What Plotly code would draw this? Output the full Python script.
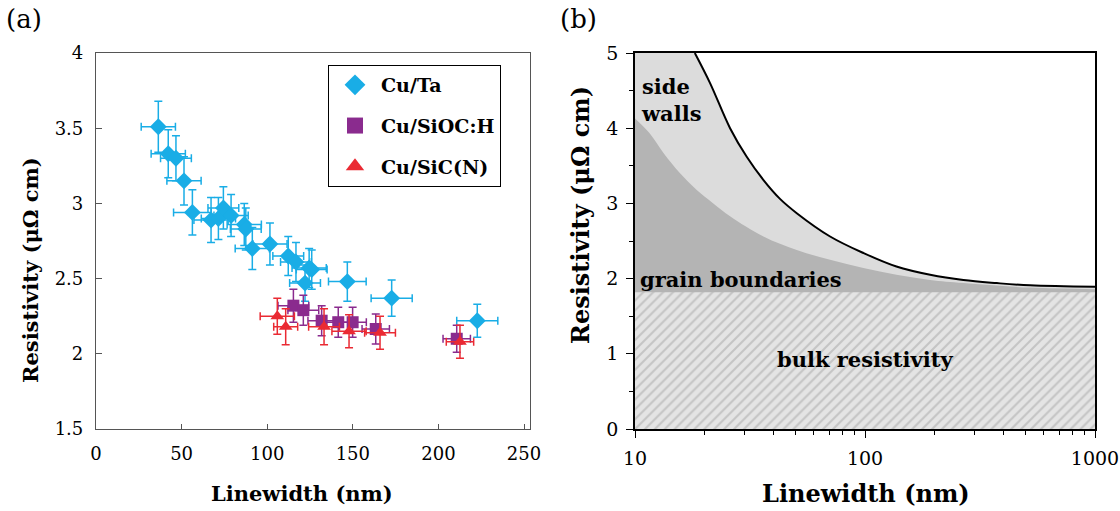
import plotly.graph_objects as go
import math

# ---------------- Panel (a) data ----------------
ta_w = [36.4, 42.2, 46.7, 51.4, 56.3, 67.2, 71.5, 74.4, 78.9, 86.6, 87.5, 91.3, 101.6,
        112.3, 116.8, 122.1, 124.5, 126.0, 146.8, 172.7, 222.7]
ta_r = [3.51, 3.33, 3.30, 3.15, 2.94, 2.89, 2.90, 2.97, 2.92, 2.86, 2.83, 2.70, 2.73,
        2.65, 2.61, 2.47, 2.57, 2.56, 2.48, 2.37, 2.22]
ta_dw = [10, 10, 9, 10, 11, 10, 10, 9, 10, 10, 9, 10, 10, 9, 9, 9, 10, 9, 11, 12, 12]
ta_dr = [0.17, 0.16, 0.15, 0.16, 0.15, 0.15, 0.14, 0.14, 0.14, 0.14, 0.14, 0.14, 0.14,
         0.13, 0.13, 0.12, 0.13, 0.13, 0.13, 0.12, 0.11]

sioc_w = [115.3, 121.1, 131.8, 141.5, 149.9, 163.4, 210.7]
sioc_r = [2.32, 2.29, 2.22, 2.21, 2.21, 2.165, 2.10]
sioc_dw = [9, 9, 8, 8, 8, 8, 8]
sioc_dr = [0.11, 0.10, 0.10, 0.10, 0.10, 0.10, 0.09]

sic_w = [105.9, 110.8, 133.2, 147.8, 165.9, 212.6]
sic_r = [2.25, 2.18, 2.18, 2.15, 2.14, 2.08]
sic_dw = [10, 7, 9, 10, 9, 8]
sic_dr = [0.12, 0.12, 0.12, 0.11, 0.11, 0.11]

left_yticks = [1.5, 2, 2.5, 3, 3.5, 4]
left_xticks = [0, 50, 100, 150, 200, 250]

# ---------------- Panel (b) data ----------------
total_w = [18.2, 21.2, 25.9, 30.6, 36.2, 42.7, 50.5, 70.5, 98.4, 137, 192, 268, 374, 522, 1000]
total_r = [5.0, 4.60, 4.00, 3.62, 3.31, 3.06, 2.87, 2.56, 2.34, 2.16, 2.05, 1.98, 1.94, 1.91, 1.89]
gb_w = [10, 11.6, 13.3, 15.7, 18.5, 21.9, 25.9, 36.2, 50.5, 70.5, 98.4, 137, 192, 268, 522, 1000]
gb_r = [4.13, 3.93, 3.67, 3.40, 3.18, 3.00, 2.83, 2.56, 2.38, 2.25, 2.14, 2.05, 1.98, 1.94, 1.88, 1.86]
bulk_rho = 1.82
W_MIN, W_MAX = 10, 1000
R_MAX = 5

FONT = "DejaVu Serif"
BLUE = "#19ade6"
PURPLE = "#8a2b8e"
RED = "#ea2a33"
LIGHT = "#dcdcdc"

fig = go.Figure()

def series(name, w, r, dw, dr, color, symbol, size):
    fig.add_trace(go.Scatter(
        x=w, y=r, mode="markers", name=name, legendgroup=name,
        marker=dict(symbol=symbol, size=size, color=color, line=dict(width=0)),
        error_x=dict(type="data", array=dw, color=color, thickness=1.5, width=4),
        error_y=dict(type="data", array=dr, color=color, thickness=1.5, width=4),
        xaxis="x", yaxis="y", showlegend=False))
    # legend-only entry with a larger symbol
    fig.add_trace(go.Scatter(
        x=[None], y=[None], mode="markers", name=name, legendgroup=name,
        marker=dict(symbol=symbol, size=22, color=color, line=dict(width=0)),
        xaxis="x", yaxis="y", showlegend=True, hoverinfo="skip"))

series("Cu/Ta", ta_w, ta_r, ta_dw, ta_dr, BLUE, "diamond", 13)
series("Cu/SiOC:H", sioc_w, sioc_r, sioc_dw, sioc_dr, PURPLE, "square", 12)
series("Cu/SiC(N)", sic_w, sic_r, sic_dw, sic_dr, RED, "triangle-up", 12)

# Panel (b): side-wall (light) region = left corner block (overlapping the first
# curve segment) + area under the total curve
fig.add_trace(go.Scatter(
    x=[W_MIN, total_w[0], total_w[1]], y=[R_MAX, R_MAX, total_r[1]], mode="lines",
    line=dict(width=0), fill="tozeroy", fillcolor=LIGHT,
    xaxis="x2", yaxis="y2", showlegend=False, hoverinfo="skip"))
fig.add_trace(go.Scatter(
    x=total_w, y=total_r, mode="lines",
    line=dict(width=0, shape="spline"), fill="tozeroy", fillcolor=LIGHT,
    xaxis="x2", yaxis="y2", showlegend=False, hoverinfo="skip"))
# grain-boundary region
fig.add_trace(go.Scatter(
    x=gb_w, y=gb_r, mode="lines", line=dict(width=0, shape="spline"),
    fill="tozeroy", fillcolor="#b4b4b4",
    xaxis="x2", yaxis="y2", showlegend=False, hoverinfo="skip"))
# bulk (hatched)
fig.add_trace(go.Scatter(
    x=[W_MIN, W_MAX], y=[bulk_rho, bulk_rho], mode="lines", line=dict(width=0),
    fill="tozeroy", fillcolor="#e4e4e4",
    fillpattern=dict(shape="/", bgcolor="#e4e4e4", fgcolor="#a4a4a4", size=7, solidity=0.3),
    xaxis="x2", yaxis="y2", showlegend=False, hoverinfo="skip"))
# total resistivity curve
fig.add_trace(go.Scatter(
    x=total_w, y=total_r, mode="lines", line=dict(color="black", width=2, shape="spline"),
    xaxis="x2", yaxis="y2", showlegend=False))

W, H = 1120, 511
ml, mr, mt, mb = 96, 25, 53, 82
pw, ph = W - ml - mr, H - mt - mb

def px(xpix):
    return (xpix - ml) / pw

def py(ypix):
    return 1 - (ypix - mt) / ph

tickfont = dict(family=FONT, size=18, color="black")

fig.update_layout(
    width=W, height=H, autosize=False, margin=dict(l=ml, r=mr, t=mt, b=mb, autoexpand=False),
    paper_bgcolor="white", plot_bgcolor="white",
    xaxis=dict(domain=[0, px(530)], range=[0, 253.5], tickvals=left_xticks, automargin=False,
               showline=True, linecolor="#555", linewidth=1.2, mirror=True,
               ticks="inside", ticklen=5, tickcolor="#555", showgrid=False, zeroline=False,
               tickfont=tickfont, ticklabelstandoff=8),
    yaxis=dict(domain=[0, 1], range=[1.5, 4], tickvals=left_yticks, automargin=False,
               showline=True, linecolor="#555", linewidth=1.2, mirror=True,
               ticks="inside", ticklen=6, tickcolor="#555", showgrid=False, zeroline=False,
               tickfont=tickfont, ticklabelstandoff=8),
    xaxis2=dict(domain=[px(635), 1], type="log", range=[1, 3], dtick=1, automargin=False,
                showline=True, linecolor="black", linewidth=1.6, mirror=True,
                ticks="outside", ticklen=7, tickwidth=1.3, tickcolor="black",
                minor=dict(ticks="outside", ticklen=4, tickwidth=1, tickcolor="black", dtick="D1"),
                showgrid=False, zeroline=False, tickfont=dict(family=FONT, size=19, color="black"),
                anchor="y2", ticklabelstandoff=4),
    yaxis2=dict(domain=[0, 1], range=[0, 5], dtick=1, automargin=False,
                showline=True, linecolor="black", linewidth=1.6, mirror=True,
                ticks="outside", ticklen=7, tickwidth=1.3, tickcolor="black",
                minor=dict(ticks="outside", ticklen=4, tickwidth=1, tickcolor="black", dtick=0.5),
                showgrid=False, zeroline=False, tickfont=dict(family=FONT, size=19, color="black"),
                anchor="x2", ticklabelstandoff=4),
    legend=dict(x=(328 - ml) / pw, y=py(65), xanchor="left", yanchor="top",
                bordercolor="black", borderwidth=1, bgcolor="white",
                font=dict(family=FONT, size=19, color="black", weight="bold"),
                tracegroupgap=13, itemsizing="trace", itemwidth=42),
    showlegend=True,
)

def ann(text, xpix, ypix, size, bold=True, angle=0, xanchor="center"):
    fig.add_annotation(text=text, xref="paper", yref="paper", x=px(xpix), y=py(ypix),
                       xanchor=xanchor, yanchor="middle", showarrow=False, textangle=angle,
                       font=dict(family=FONT, size=size, color="black",
                                 weight="bold" if bold else "normal"))

ann("Linewidth (nm)", 302, 493, 21)
ann("Resistivity (μΩ cm)", 30, 270, 21, angle=-90)
ann("Linewidth (nm)", 866, 493, 24)
ann("Resistivity (μΩ cm)", 580, 215, 24, angle=-90)
ann("(a)", 24, 19, 26, bold=False)
ann("(b)", 578, 19, 26, bold=False)

# Panel (b) region labels
fig.add_annotation(text="side<br>walls", xref="x2", yref="y2", x=math.log10(10.45), y=4.37,
                   xanchor="left", yanchor="middle", showarrow=False, align="left",
                   font=dict(family=FONT, size=21, color="black", weight="bold"))
fig.add_annotation(text="grain boundaries", xref="x2", yref="y2", x=math.log10(10.35), y=1.99,
                   xanchor="left", yanchor="middle", showarrow=False,
                   font=dict(family=FONT, size=21, color="black", weight="bold"))
fig.add_annotation(text="bulk resistivity", xref="x2", yref="y2", x=2.0, y=0.92,
                   xanchor="center", yanchor="middle", showarrow=False,
                   font=dict(family=FONT, size=21, color="black", weight="bold"))

fig.write_html(
    "out.html",
    config={"displayModeBar": False, "responsive": False},
    post_script="document.body.style.margin='0';document.body.style.overflow='hidden';",
)
